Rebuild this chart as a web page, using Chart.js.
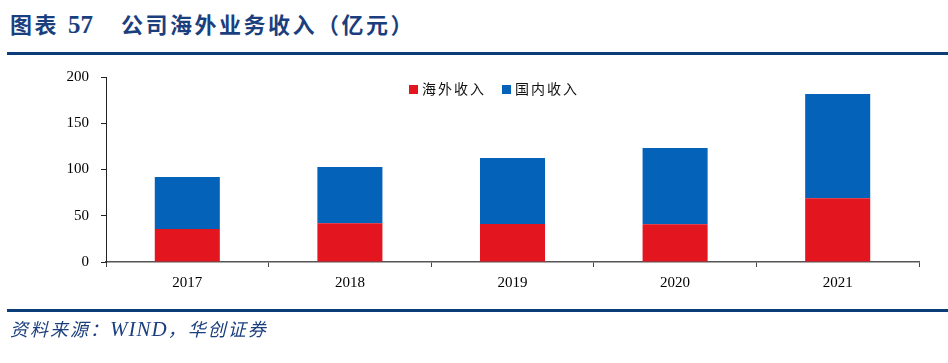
<!DOCTYPE html>
<html>
<head>
<meta charset="utf-8">
<script src="https://cdn.jsdelivr.net/npm/chart.js@4"></script>
<style>
  body { margin: 0; background: #fff; }
  #wrap { position: relative; width: 948px; height: 363px; overflow: hidden; }
  #title { position: absolute; left: 10px; top: 7px; font: bold 22px "Noto Sans CJK SC", sans-serif; color: #1B3F7E; white-space: pre; }
  #title .num { font-family: "Liberation Serif", serif; font-size: 25px; margin: 0 28px 0 9px; }
  #title .cn { letter-spacing: 2.5px; }
  .rule { position: absolute; left: 7px; right: 0; height: 3px; background: #0B3D79; }
  #source { position: absolute; left: 10px; top: 315px; font: italic 18px "Noto Sans CJK SC", sans-serif; color: #1B3F7E; letter-spacing: 2px; }
  #source .latin { font-family: "Liberation Serif", serif; font-size: 21px; letter-spacing: 1px; }
  #legend { position: absolute; top: 78px; left: 409px; font: 14px "Noto Sans CJK SC", sans-serif; color: #111; display: flex; gap: 16px; letter-spacing: 2px; }
  #legend span.box { display: inline-block; width: 9px; height: 9px; margin-right: 4px; }
  canvas { position: absolute; left: 0; top: 0; }
</style>
</head>
<body>
<div id="wrap">
  <div id="title"><span class="cn">图表</span><span class="num">57</span><span class="cn">公司海外业务收入（亿元）</span></div>
  <div class="rule" style="top:52px"></div>
  <canvas id="myChart" width="948" height="363"></canvas>
  <div id="legend"></div>
  <div class="rule" style="top:309px"></div>
  <div id="source">资料来源：<span class="latin">WIND</span>，华创证券</div>
</div>
<script>
const years = ["2017", "2018", "2019", "2020", "2021"];
const seriesNames = ["海外收入", "国内收入"];
const overseas = [35.7, 41.9, 41.0, 40.8, 68.9];
const domestic = [56.2, 60.8, 71.4, 82.4, 112.7];
const seriesColors = ["#E3151E", "#0462B8"];

const legend = document.getElementById("legend");
seriesNames.forEach(function (name, i) {
    const item = document.createElement("div");
    item.innerHTML = '<span class="box" style="background:' + seriesColors[i] + '"></span>' + name;
    legend.appendChild(item);
});

const ctx = document.getElementById("myChart").getContext("2d");
new Chart(ctx, {
    type: "bar",
    data: {
        labels: years,
        datasets: [
            { label: seriesNames[0], data: overseas, backgroundColor: seriesColors[0] },
            { label: seriesNames[1], data: domestic, backgroundColor: seriesColors[1] },
        ],
    },
    options: {
        responsive: false,
        animation: false,
        categoryPercentage: 1,
        barPercentage: 0.4,
        layout: { padding: { top: 77, right: 29, bottom: 63, left: 0 } },
        plugins: { legend: { display: false }, tooltip: { enabled: false } },
        scales: {
            x: {
                stacked: true,
                grid: { drawOnChartArea: false, drawTicks: true, tickLength: 5, color: "#444" },
                border: { color: "#555", width: 1.5 },
                ticks: { color: "#000", padding: 7, font: { family: "Liberation Serif", size: 15 } },
                afterFit: function (s) { s.height = 38; },
            },
            y: {
                stacked: true,
                min: 0,
                max: 200,
                grid: { drawOnChartArea: false, drawTicks: true, tickLength: 5, color: "#222" },
                border: { color: "#222", width: 1 },
                ticks: { stepSize: 50, color: "#000", padding: 12, font: { family: "Liberation Serif", size: 15 } },
                afterFit: function (s) { s.width = 106; },
            },
        },
    },
});
</script>
</body>
</html>
